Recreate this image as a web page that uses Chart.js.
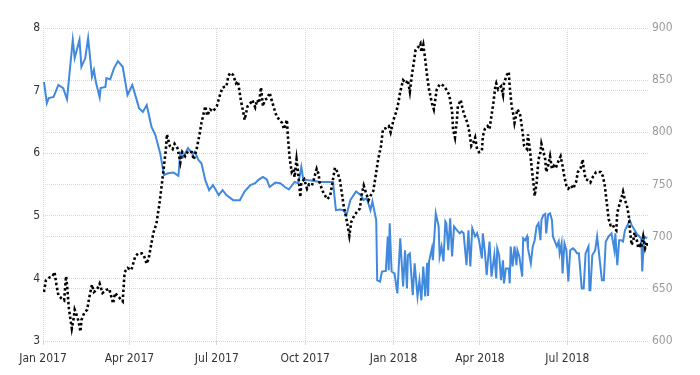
<!DOCTYPE html>
<html>
<head>
<meta charset="utf-8">
<script src="https://cdn.jsdelivr.net/npm/chart.js@4/dist/chart.umd.min.js"></script>
<style>
  html, body { margin: 0; padding: 0; background: #fff; }
  #wrap { width: 700px; height: 375px; }
</style>
</head>
<body>
<div id="wrap"><canvas id="chart"></canvas></div>
<script>
// days counted from 1 Jan 2017
var tickDays   = [0, 90, 181, 273, 365, 455, 546];
var tickLabels = ['Jan 2017', 'Apr 2017', 'Jul 2017', 'Oct 2017', 'Jan 2018', 'Apr 2018', 'Jul 2018'];

// blue series, left axis
var blueDays = [1,4,6,11,16,21,25,31,33,38,40,44,47,51,53,55,59,60,65,66,70,74,78,83,88,93,97,100,104,108,113,117,122,126,130,136,141,143,146,151,156,158,162,165,169,173,177,183,187,191,198,205,210,216,221,224,229,233,236,242,247,252,256,262,266,269,271,276,281,288,295,302,305,309,313,316,320,326,331,334,337,341,343,347,348,351,353,357,359,360,361,363,366,369,372,375,377,379,380,382,385,387,390,392,394,396,398,400,401,402,405,406,409,412,413,415,417,419,420,422,424,426,428,431,434,436,438,441,443,445,447,450,452,454,457,458,460,462,465,467,470,472,473,475,477,479,480,482,485,486,487,489,491,493,494,496,499,500,502,504,505,508,510,512,514,516,518,519,521,523,524,526,528,530,531,533,535,537,538,540,541,543,545,547,549,552,554,556,558,561,563,565,568,569,570,572,575,577,579,582,584,586,589,592,595,596,598,600,602,604,606,608,611,613,615,618,621,623,624,626,629];
var blueVals = [7.14,6.80,6.88,6.90,7.09,7.04,6.86,7.81,7.52,7.81,7.38,7.52,7.84,7.22,7.33,7.14,6.89,7.04,7.06,7.20,7.18,7.36,7.47,7.38,6.93,7.09,6.88,6.72,6.66,6.77,6.42,6.29,6.00,5.65,5.68,5.69,5.64,6.00,5.94,6.08,5.98,6.02,5.89,5.84,5.57,5.41,5.49,5.33,5.41,5.33,5.25,5.25,5.39,5.49,5.52,5.57,5.62,5.58,5.46,5.53,5.52,5.46,5.42,5.54,5.52,5.78,5.58,5.57,5.56,5.54,5.54,5.54,5.09,5.10,5.09,5.01,5.25,5.39,5.33,5.25,5.28,5.09,5.23,4.93,3.97,3.95,4.11,4.12,4.67,4.13,4.88,4.11,4.08,3.76,4.64,3.87,4.45,3.84,4.37,4.40,3.73,4.24,3.71,3.97,3.65,4.19,3.71,4.25,3.72,4.27,4.48,4.29,5.04,4.83,4.35,4.51,4.27,4.91,4.88,4.45,4.96,4.35,4.83,4.77,4.72,4.75,4.72,4.21,4.77,4.19,4.80,4.67,4.72,4.61,4.32,4.72,4.45,4.05,4.59,4.03,4.38,4.00,4.48,4.37,3.97,4.29,3.92,4.16,4.16,3.92,4.51,4.19,4.51,4.21,4.45,4.35,4.03,4.64,4.61,4.67,4.48,4.24,4.51,4.61,4.83,4.88,4.61,4.93,5.01,5.03,4.72,5.02,5.04,4.93,4.67,4.59,4.51,4.59,4.40,4.56,4.08,4.56,4.45,3.95,4.45,4.48,4.45,4.40,4.40,3.84,3.84,4.40,4.51,3.81,3.81,4.37,4.45,4.67,4.40,3.97,3.97,4.59,4.67,4.72,4.45,4.72,4.21,4.61,4.61,4.59,4.77,4.83,4.93,4.85,4.80,4.72,4.67,4.64,4.11,4.67,4.64];

// black dotted series, right axis
var blackDays = [1,3,7,10,12,14,16,19,22,24,25,27,30,32,33,35,37,39,40,43,46,48,51,53,56,59,62,66,69,73,75,77,80,83,85,88,92,96,99,103,105,108,110,112,115,118,121,124,126,128,129,132,135,137,140,143,145,148,151,155,157,160,163,165,169,171,174,177,181,184,187,191,193,195,198,201,203,206,209,210,213,216,218,221,223,225,227,229,231,234,236,238,241,243,246,249,251,254,255,257,259,261,262,264,266,268,269,272,275,277,280,282,285,287,288,291,294,296,299,302,304,306,309,311,313,316,319,321,324,327,330,332,334,336,339,341,344,347,349,352,354,357,360,362,365,368,370,372,375,378,380,382,384,386,388,391,393,394,396,398,400,402,405,407,410,413,415,418,420,423,426,427,429,431,432,435,437,439,442,444,446,448,450,452,454,457,458,460,463,465,467,469,471,472,474,477,479,480,483,485,486,488,490,491,494,496,497,500,501,504,505,507,509,511,512,514,516,518,519,521,523,524,526,528,530,532,534,537,539,541,543,545,547,550,552,555,557,560,562,563,565,568,570,573,576,578,581,583,585,587,589,591,593,595,597,598,600,602,604,606,608,610,611,613,615,616,618,620,622,623,625,627,629,630];
var blackVals = [647,658,661,662,666,654,644,641,639,662,654,631,612,622,630,625,619,609,620,627,630,641,654,647,649,655,646,649,650,636,646,644,641,638,666,670,668,681,684,684,682,674,679,689,704,712,730,752,768,784,798,787,784,789,785,771,781,777,782,781,774,784,798,809,825,816,822,820,825,835,843,844,854,857,855,847,849,831,817,812,825,828,831,824,831,828,843,825,831,833,838,831,822,816,812,809,803,812,796,774,762,765,757,774,758,738,752,755,746,750,749,755,765,760,752,744,739,736,739,755,766,763,755,743,730,717,701,714,720,724,727,741,749,743,735,739,744,762,774,787,803,804,806,800,812,820,828,839,850,847,850,839,854,866,879,882,885,877,884,870,854,841,828,822,841,846,846,844,841,836,820,803,795,812,825,831,822,816,809,800,787,790,795,784,781,782,796,803,806,803,816,828,844,847,841,844,836,847,855,858,844,825,816,809,822,819,816,796,787,784,798,784,765,749,739,752,774,781,789,782,774,762,768,777,765,768,766,773,777,768,757,749,746,749,746,752,762,766,774,766,755,754,752,758,762,762,762,758,749,733,717,711,712,708,706,723,730,736,743,735,730,720,708,692,698,704,698,689,692,690,700,689,695,690];

function toPoints(days, vals) {
  return days.map(function(d, i){ return {x: d, y: vals[i]}; });
}

var fontFam = "'Liberation Sans Narrow', 'DejaVu Sans Condensed', 'Liberation Sans', sans-serif";
var gridColor = '#d6d6d6';

var ctx = document.getElementById('chart').getContext('2d');
var chart = new Chart(ctx, {
  type: 'line',
  data: {
    datasets: [
      {
        label: 'black',
        data: toPoints(blackDays, blackVals),
        yAxisID: 'yR',
        borderColor: '#000000',
        borderWidth: 2.6,
        borderDash: [2.5, 2.5],
        pointRadius: 0,
        tension: 0,
        fill: false,
        order: 0
      },
      {
        label: 'blue',
        data: toPoints(blueDays, blueVals),
        yAxisID: 'yL',
        borderColor: '#4189dd',
        borderWidth: 2,
        pointRadius: 0,
        tension: 0,
        fill: false,
        order: 1
      }
    ]
  },
  options: {
    responsive: true,
    maintainAspectRatio: false,
    animation: false,
    layout: { padding: { top: 28, right: 0, left: 0, bottom: 0 } },
    plugins: { legend: { display: false }, tooltip: { enabled: false } },
    scales: {
      x: {
        type: 'linear',
        min: 0,
        max: 630,
        afterBuildTicks: function(axis){
          axis.ticks = tickDays.map(function(d){ return {value: d}; });
        },
        afterFit: function(axis){ axis.height = 34; },
        ticks: {
          autoSkip: false,
          maxRotation: 0,
          padding: 7,
          color: '#333',
          font: { family: fontFam, size: 12 },
          callback: function(v){
            var i = tickDays.indexOf(v);
            return i >= 0 ? tickLabels[i] : '';
          }
        },
        grid: { color: gridColor, tickLength: 4, drawTicks: true },
        border: { display: false, dash: [1, 1] }
      },
      yL: {
        position: 'left',
        min: 3,
        max: 8,
        afterBuildTicks: function(axis){
          axis.ticks = [3,4,5,6,7,8].map(function(v){ return {value: v}; });
        },
        afterFit: function(axis){ axis.width = 43; },
        ticks: {
          padding: 3,
          color: '#333',
          font: { family: fontFam, size: 12 }
        },
        grid: { color: gridColor, drawTicks: false },
        border: { display: false, dash: [1, 1] }
      },
      yR: {
        position: 'right',
        min: 600,
        max: 900,
        afterBuildTicks: function(axis){
          axis.ticks = [600,650,700,750,800,850,900].map(function(v){ return {value: v}; });
        },
        afterFit: function(axis){ axis.width = 52; },
        ticks: {
          padding: 4,
          color: '#9a9a9a',
          font: { family: fontFam, size: 12 }
        },
        grid: { color: gridColor, drawTicks: false },
        border: { display: false, dash: [1, 1] }
      }
    }
  }
});
</script>
</body>
</html>
